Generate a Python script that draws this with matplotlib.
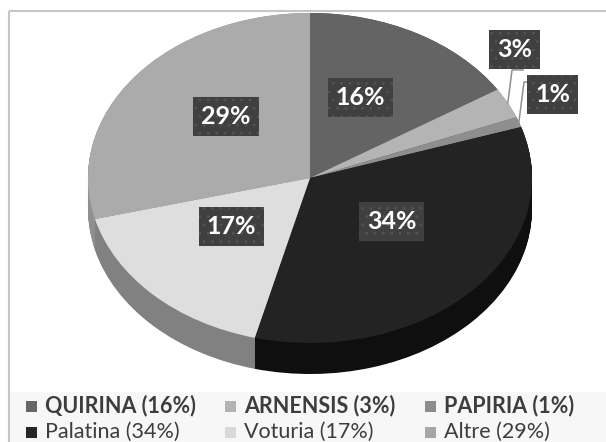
import numpy as np
import matplotlib
matplotlib.use('Agg')
import matplotlib.pyplot as plt
from matplotlib.patches import Rectangle
from matplotlib.colors import to_rgb

names = ['QUIRINA', 'ARNENSIS', 'PAPIRIA', 'Palatina', 'Voturia', 'Altre']
shares = [16, 3, 1, 34, 17, 29]
face_colors = ['#646464', '#b4b4b4', '#8e8e8e', '#232323', '#dedede', '#ababab']
key_colors = ['#666666', '#b3b3b3', '#8c8c8c', '#262626', '#d9d9d9', '#a6a6a6']
side_shade = [0.6, 0.6, 0.6, 0.42, 0.58, 0.84]
bold_row = [True, True, True, False, False, False]

plt.rcParams['font.family'] = ['Lato', 'DejaVu Sans']
plt.rcParams['hatch.linewidth'] = 0.8

W, H = 606, 442
fig = plt.figure(figsize=(W / 100, H / 100), dpi=100)

# background layer in pixel coordinates: frame, legend strip, legend keys
bg = fig.add_axes([0, 0, 1, 1])
bg.set_xlim(0, W)
bg.set_ylim(H, 0)
bg.axis('off')
bg.add_patch(Rectangle((9, 10.5), 640, 480, fill=False, ec='#c6c6c6', lw=1.5))
bg.add_patch(Rectangle((10, 392), 640, 60, fc='#f7f7f7', ec='none'))

key_x = [26, 225, 425]
key_base = [412, 438]
for i, (nm, sh) in enumerate(zip(names, shares)):
    r, c = divmod(i, 3)
    bg.add_patch(Rectangle((key_x[c], key_base[r] - 11), 11, 11,
                           fc=key_colors[i], ec='none'))
    bg.text(key_x[c] + 19, key_base[r], f'{nm} ({sh}%)', fontsize=15.5,
            fontweight='bold' if bold_row[i] else 'normal',
            color='#3d3d3d', va='baseline', ha='left')

# pie geometry (pixels): centre, semi axes, rim depth
cx, cy, a, b, depth = 310, 178, 222, 165, 31
ax = fig.add_axes([(cx - a) / W, (H - (cy + b + depth)) / H,
                   2 * a / W, (2 * b + depth) / H])

side_colors = [tuple(np.array(to_rgb(fc)) * s) for fc, s in zip(face_colors, side_shade)]
dy = depth / b
for t in np.linspace(dy, 0, 40):
    ax.pie(shares, colors=side_colors, startangle=90, counterclock=False,
           center=(0, -t), radius=1, wedgeprops=dict(linewidth=0))
wedges, _ = ax.pie(shares, colors=face_colors, startangle=90, counterclock=False,
                   radius=1, wedgeprops=dict(linewidth=0))
ax.set_aspect('auto')
ax.set_xlim(-1, 1)
ax.set_ylim(-1 - dy, 1)
ax.axis('off')

# label boxes, positioned in pie units
label_xy = [(0.227, 0.488), (0.921, 0.776), (1.092, 0.509),
            (0.367, -0.264), (-0.354, -0.291), (-0.378, 0.370)]
leaders = {1: [(0.91, 0.655), (0.96, 0.655)],
           2: [(0.964, 0.582), (1.0, 0.582)]}

for i, w in enumerate(wedges):
    mid = np.deg2rad((w.theta1 + w.theta2) / 2)
    if i in leaders:
        pts = [(np.cos(mid), np.sin(mid))] + leaders[i]
        ax.plot([p[0] for p in pts], [p[1] for p in pts], color='#8f8f8f',
                lw=1.1, clip_on=False, zorder=3)
    ax.text(*label_xy[i], f'{shares[i]}%', fontsize=18, fontweight='bold',
            color='white', ha='center', va='center', zorder=4, clip_on=False,
            bbox=dict(boxstyle='square,pad=0.32', fc='#404040', ec='#535353',
                      lw=0, hatch='..'))

fig.savefig('out.png', dpi=100)
